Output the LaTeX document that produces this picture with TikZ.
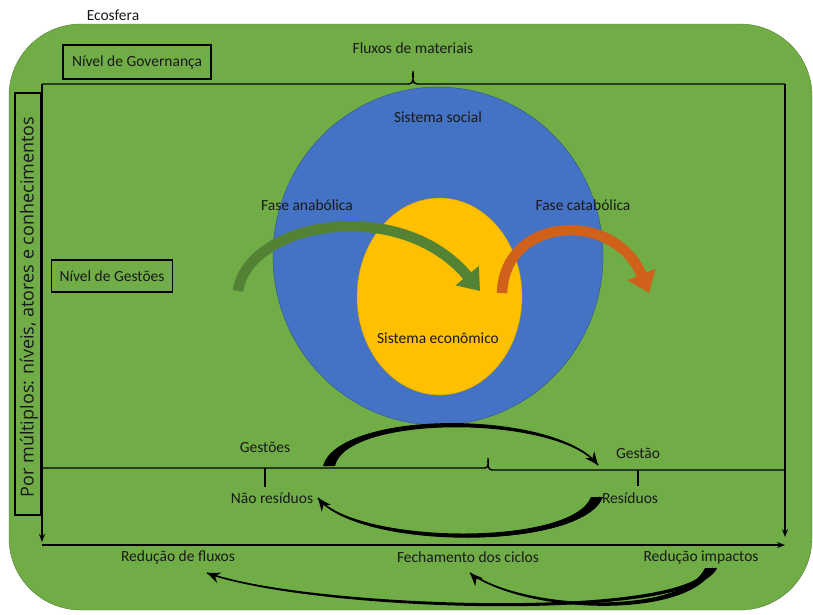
\documentclass[tikz,border=0pt]{standalone}
\usepackage{fontspec}
\setmainfont{Carlito}
\newfontfamily\sidefont{Open Sans}
\usetikzlibrary{arrows.meta}
\definecolor{ecogreen}{HTML}{70AD47}
\definecolor{ecoline}{HTML}{507E32}
\definecolor{socblue}{HTML}{4472C4}
\definecolor{socline}{HTML}{2F528F}
\definecolor{econyellow}{HTML}{FFC000}
\definecolor{anagreen}{HTML}{548235}
\definecolor{catorange}{HTML}{D0611A}
\begin{document}
\begin{tikzpicture}[x=1pt,y=-1pt,
    lbl/.style={font=\fontsize{15.5}{18}\selectfont, text=black!90, inner sep=1pt},
    lvlbox/.style={lbl, draw=black, line width=1.6pt, inner sep=0pt},
    flow/.style={line width=1.4pt, black},
    cycle/.style={line width=1.6pt, black},
    cyclehead/.style={line width=1.6pt, black, -{Stealth[length=13pt,width=11pt]}}]
    \useasboundingbox (0,0) rectangle (813,614);
    % ecosfera
    \draw[ecoline, fill=ecogreen, rounded corners=72pt] (9,24) rectangle (812,610);
    \node[lbl] (ecosfera) at (113,15) {Ecosfera};
    % sistemas
    \draw[socline, fill=socblue] (438,256) ellipse [x radius=165, y radius=169];
    \draw[econyellow!80!black, fill=econyellow] (439.5,296.5) ellipse [x radius=82.5, y radius=98.5];
    \node[lbl] (social) at (438,117) {Sistema social};
    \node[lbl] (econ) at (438,338) {Sistema econômico};
    \node[lbl] (ana) at (307,205) {Fase anabólica};
    \node[lbl] (cata) at (583,205) {Fase catabólica};
    % fases
    \coordinate (anaS) at (238,291);
    \coordinate (anaE) at (480,291);
    \coordinate (cataS) at (502,293);
    \coordinate (cataE) at (649,293);
    \draw[anagreen, line width=10.5pt, -{Triangle[length=20pt,width=29pt]}]
        (anaS) .. controls (248,222) and (400,195) .. (anaE);
    \draw[catorange, line width=10.5pt, -{Triangle[length=20pt,width=29pt]}]
        (cataS) .. controls (505,215) and (615,210) .. (cataE);
    % niveis
    \node[lvlbox, minimum width=148pt, minimum height=34pt] (gov) at (137,62) {Nível de Governança};
    \node[lvlbox, minimum width=121pt, minimum height=32pt] (gest) at (112,276) {Nível de Gestões};
    \node[lvlbox, minimum width=26pt, minimum height=422pt, inner sep=0pt] (multi) at (28,304) {};
    \node[rotate=90, font=\sidefont\fontsize{18}{20}\selectfont, text=black!90] (multitxt) at (29,307) {Por múltiplos: níveis, atores e conhecimentos};
    % fluxos de materiais
    \node[lbl] (fluxos) at (413,48) {Fluxos de materiais};
    \coordinate (tl) at (42,84);
    \coordinate (tr) at (785,84);
    \draw[flow] (tl) -- (409,84) to[out=0,in=-90] (413,71) to[out=-90,in=180] (417,84) -- (tr);
    \draw[flow, -{Stealth[length=8pt,width=6pt]}] (tl) -- (42,542);
    \draw[flow, -{Stealth[length=8pt,width=6pt]}] (tr) -- (785,537);
    \draw[flow, -{Stealth[length=8pt,width=6pt]}] (42,545) -- (785,545);
    % gestoes
    \draw[flow] (42,468) -- (485,468) to[out=0,in=-90] (488,458) to[out=-90,in=180] (492,470) -- (785,470);
    \node[lbl] (gestoes) at (265,447) {Gestões};
    \node[lbl] (gestao) at (638,453) {Gestão};
    \node[lbl] (naores) at (272,498) {Não resíduos};
    \node[lbl] (res) at (630,498) {Resíduos};
    \draw[flow] (265,468) -- (265,487);
    \draw[flow] (638,470) -- (638,486);
    % ciclo gestoes
    \coordinate (upS) at (326,466);
    \coordinate (upE) at (598,465);
    \coordinate (loS) at (600,497);
    \coordinate (loE) at (318,498);
    \fill (323,466) .. controls (338,410) and (555,410) .. (upE)
        .. controls (555,414) and (346,415) .. (335,466) -- cycle;
    \draw[cycle] (upS) .. controls (340,410) and (555,410) .. (upE);
    \draw[cyclehead] (594,460) -- (upE);
    \fill (603,497) .. controls (582,551) and (360,550) .. (loE)
        .. controls (360,545) and (572,546) .. (591,497) -- cycle;
    \draw[cycle] (loS) .. controls (580,550) and (360,550) .. (loE);
    \draw[cyclehead] (322,503) -- (loE);
    % reducoes
    \node[lbl] (redflux) at (178,557) {Redução de fluxos};
    \node[lbl] (fecha) at (468,557) {Fechamento dos ciclos};
    \node[lbl] (redimp) at (701,557) {Redução impactos};
    \coordinate (riS) at (716,568);
    \coordinate (rfE) at (207,573);
    \coordinate (riT) at (713,568);
    \coordinate (fcE) at (470,573);
    \fill (717,568) .. controls (690,622) and (320,612) .. (rfE)
        .. controls (320,609) and (686,619) .. (708,568) -- cycle;
    \draw[cycle] (riS) .. controls (690,622) and (320,612) .. (rfE);
    \draw[cyclehead] (212,575) -- (rfE);
    \fill (714,568) .. controls (690,618) and (530,615) .. (fcE)
        .. controls (530,612) and (684,614) .. (705,568) -- cycle;
    \draw[cycle] (riT) .. controls (690,618) and (530,615) .. (fcE);
    \draw[cyclehead] (474,577) -- (fcE);
\end{tikzpicture}
\end{document}
